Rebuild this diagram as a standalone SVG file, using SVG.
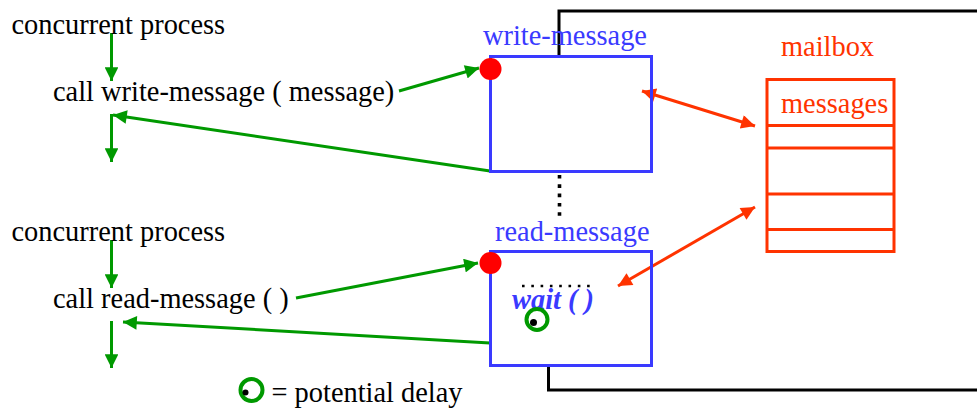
<svg xmlns="http://www.w3.org/2000/svg" width="977" height="408" viewBox="0 0 977 408">
<defs>
<style>
.t{font-family:"Liberation Serif","Times New Roman",serif;font-size:28.4px;fill:#000}
.blue{fill:#3a3aff}
.orng{fill:#ff3300}
.box{fill:none;stroke:#3a3aff;stroke-width:3}
.mb{fill:none;stroke:#ff3300;stroke-width:3}
.g{stroke:#009900;stroke-width:3;fill:none}
.o{stroke:#ff3300;stroke-width:3;fill:none}
.k{stroke:#000;stroke-width:3;fill:none}
</style>
<marker id="ga" viewBox="0 0 10 10" refX="10" refY="5" markerWidth="5" markerHeight="4.6" markerUnits="strokeWidth" orient="auto">
<path d="M0,0 L10,5 L0,10 z" fill="#009900"/>
</marker>
<marker id="oa" viewBox="0 0 10 10" refX="10" refY="5" markerWidth="5.5" markerHeight="4.6" markerUnits="strokeWidth" orient="auto-start-reverse">
<path d="M0,0 L10,5 L0,10 z" fill="#ff3300"/>
</marker>
</defs>
<rect width="977" height="408" fill="#fff"/>

<g id="connectors">
<polyline class="k" points="559,56 559,11 977,11"/>
<polyline class="k" points="548.5,366 548.5,390 977,390"/>
<line x1="559.5" y1="175" x2="559.5" y2="217" stroke="#000" stroke-width="3.6" stroke-dasharray="3.6 5.7"/>
<line class="g" x1="111.5" y1="33" x2="111.5" y2="81" marker-end="url(#ga)"/>
<line class="g" x1="111.5" y1="114" x2="111.5" y2="162" marker-end="url(#ga)"/>
<line class="g" x1="399" y1="91" x2="479" y2="68" marker-end="url(#ga)"/>
<line class="g" x1="490" y1="171" x2="113" y2="115" marker-end="url(#ga)"/>
<line class="g" x1="111.5" y1="240" x2="111.5" y2="288" marker-end="url(#ga)"/>
<line class="g" x1="111.5" y1="321" x2="111.5" y2="368" marker-end="url(#ga)"/>
<line class="g" x1="296" y1="298" x2="478" y2="263" marker-end="url(#ga)"/>
<line class="g" x1="490" y1="343" x2="123" y2="322" marker-end="url(#ga)"/>
<line class="o" x1="642" y1="91" x2="755" y2="126" marker-start="url(#oa)" marker-end="url(#oa)"/>
<line class="o" x1="755" y1="207" x2="618" y2="286" marker-start="url(#oa)" marker-end="url(#oa)"/>
</g>

<g id="process1">
<text class="t" x="11.5" y="34">concurrent process</text>
<text class="t" x="53" y="101">call write-message ( message)</text>
</g>

<g id="process2">
<text class="t" x="11.5" y="241">concurrent process</text>
<text class="t" x="53" y="308">call read-message ( )</text>
</g>

<g id="write-message">
<rect class="box" x="490.5" y="56.5" width="161" height="115"/>
<text class="t blue" x="483" y="45">write-message</text>
<circle cx="490.5" cy="69" r="11" fill="#ff0000"/>
</g>

<g id="read-message">
<rect class="box" x="490.5" y="251.5" width="161" height="114"/>
<text class="t blue" x="495" y="241">read-message</text>
<circle cx="490.5" cy="263" r="11" fill="#ff0000"/>
<line x1="522" y1="286" x2="590" y2="286" stroke="#000" stroke-width="2.6" stroke-dasharray="2.6 6.7"/>
<text class="t blue" x="512" y="309" font-weight="bold" font-style="italic">wait ( )</text>
<circle cx="537" cy="319.5" r="10.5" fill="none" stroke="#009900" stroke-width="4"/>
<circle cx="533.5" cy="322.5" r="3.5" fill="#000"/>
</g>

<g id="mailbox">
<text class="t orng" x="781" y="56">mailbox</text>
<rect class="mb" x="767" y="79.5" width="127" height="172"/>
<line class="mb" x1="767" y1="125.5" x2="894" y2="125.5"/>
<line class="mb" x1="767" y1="148" x2="894" y2="148"/>
<line class="mb" x1="767" y1="194" x2="894" y2="194"/>
<line class="mb" x1="767" y1="229.5" x2="894" y2="229.5"/>
<text class="t orng" x="781" y="113">messages</text>
</g>

<g id="legend">
<circle cx="251.5" cy="390" r="11" fill="none" stroke="#009900" stroke-width="4"/>
<circle cx="245.5" cy="392.5" r="3" fill="#000"/>
<text class="t" x="271.5" y="401.5">= potential delay</text>
</g>
</svg>
